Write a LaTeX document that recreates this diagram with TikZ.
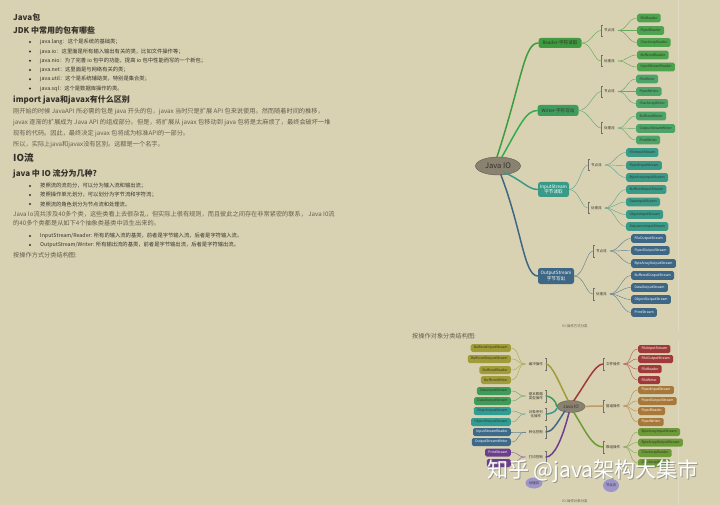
\documentclass[tikz,border=0pt]{standalone}
\usepackage{fontspec}
\setmainfont{Noto Sans CJK SC}
\usetikzlibrary{positioning,shapes.geometric}

\definecolor{paper}{HTML}{D8D2B3}
\definecolor{ink}{HTML}{36322A}
\definecolor{body}{HTML}{655D4B}
\definecolor{hubfill}{HTML}{8A8270}
\definecolor{gRead}{HTML}{3F9B3F}
\definecolor{gWrite}{HTML}{3E9C5C}
\definecolor{tIn}{HTML}{3A9A88}
\definecolor{bOut}{HTML}{3D6784}
\definecolor{cBuf}{HTML}{A09C38}
\definecolor{cData}{HTML}{3F9B58}
\definecolor{cObj}{HTML}{309C94}
\definecolor{cConv}{HTML}{3E6A8A}
\definecolor{cPrint}{HTML}{6C3F8E}
\definecolor{cFile}{HTML}{A03A3A}
\definecolor{cPipe}{HTML}{A8783A}
\definecolor{cArr}{HTML}{6C9B38}
\definecolor{lav}{HTML}{9D95C9}

\tikzset{
  hd/.style={anchor=west, inner sep=0pt, text=ink, font=\bfseries\fontsize{8}{9}\selectfont},
  para/.style={anchor=west, inner sep=0pt, text=body, font=\fontsize{6.2}{7}\selectfont},
  item/.style={anchor=west, inner sep=0pt, text=ink, font=\fontsize{5.3}{6}\selectfont},
  hub/.style={ellipse, fill=hubfill, draw=hubfill!70!black, line width=0.4pt, text=ink, inner sep=0pt},
  branch/.style={fill=#1, rounded corners=2.5pt, inner sep=1pt, align=center, font=\fontsize{4.6}{5.4}\selectfont},
  leaf/.style={fill=#1, rounded corners=1.6pt, minimum height=8.6pt, inner xsep=3.3pt, inner ysep=0pt, font=\fontsize{3.4}{3.9}\selectfont},
  tag/.style={inner xsep=3pt, inner ysep=0pt, minimum height=11pt, align=center, text=ink, font=\fontsize{3.5}{4.2}\selectfont},
  trunk/.style={draw=#1, line width=1.5pt, line cap=round},
  twig/.style={draw=#1!75!paper, line width=0.45pt},
  brk/.style={draw=ink!70, line width=0.4pt},
  bubble/.style={ellipse, fill=lav, inner sep=0pt, text=ink, font=\fontsize{3.3}{4}\selectfont},
}

% brackets on the left / right side of a tag
\newcommand{\brkL}[1]{\draw[brk] ([xshift=1.5pt]#1.north west) -- (#1.north west) -- (#1.south west) -- ([xshift=1.5pt]#1.south west);}
\newcommand{\brkR}[1]{\draw[brk] ([xshift=-1.5pt]#1.north east) -- (#1.north east) -- (#1.south east) -- ([xshift=-1.5pt]#1.south east);}

\begin{document}
\begin{tikzpicture}[x=1pt,y=-1pt]

% Page
\fill[paper] (0,0) rectangle (720,505);
\useasboundingbox (0,0) rectangle (720,505);
\draw[paper!80!white, line width=0.6pt] (678,0) -- (678,332);
\draw[paper!80!white, line width=0.6pt] (678,340) -- (678,505);

% ---------------- left column: text ----------------
\node[hd] (tPkg) at (13,17) {Java包};
\node[hd] (tJdk) at (13,30) {JDK 中常用的包有哪些};

\foreach \yy/\txt in {42/{java.lang：这个是系统的基础类；},
                      51.5/{java.io：这里面是所有输入输出有关的类，比如文件操作等；},
                      60.8/{java.nio：为了完善 io 包中的功能，提高 io 包中性能而写的一个新包；},
                      70/{java.net：这里面是与网络有关的类；},
                      79.2/{java.util：这个是系统辅助类，特别是集合类；},
                      88.5/{java.sql：这个是数据库操作的类。}} {
  \fill[ink] (30,\yy) circle (1.1pt);
  \node[item] at (40,\yy) {\txt};
}

\node[hd] (tImp) at (13,100) {import java和javax有什么区别};
\node[para] (p1) at (13,112) {刚开始的时候 JavaAPI 所必需的包是 java 开头的包，javax 当时只是扩展 API 包来说使用。然而随着时间的推移，};
\node[para] (p2) at (13,123) {javax 逐渐的扩展成为 Java API 的组成部分。但是，将扩展从 javax 包移动到 java 包将是太麻烦了，最终会破坏一堆};
\node[para] (p3) at (13,134) {现有的代码。因此，最终决定 javax 包将成为标准API的一部分。};
\node[para] (p4) at (13,145) {所以，实际上java和javax没有区别。这都是一个名字。};

\node[hd, font=\bfseries\fontsize{9.6}{11}\selectfont] (tIO) at (13,158) {IO流};
\node[hd] (tKind) at (13,173.5) {java 中 IO 流分为几种?};

\foreach \yy/\txt in {186/{按照流的流向分，可以分为输入流和输出流；},
                      195/{按照操作单元划分，可以划分为字节流和字符流；},
                      204/{按照流的角色划分为节点流和处理流。}} {
  \fill[ink] (30,\yy) circle (1.1pt);
  \node[item] at (40,\yy) {\txt};
}

\node[para] (p5) at (13,214) {Java Io流共涉及40多个类，这些类看上去很杂乱，但实际上很有规则，而且彼此之间存在非常紧密的联系， Java I0流};
\node[para] (p6) at (13,223.5) {的40多个类都是从如下4个抽象类基类中派生出来的。};

\foreach \yy/\txt in {236/{InputStream/Reader: 所有的输入流的基类，前者是字节输入流，后者是字符输入流。},
                      245/{OutputStream/Writer: 所有输出流的基类，前者是字节输出流，后者是字符输出流。}} {
  \fill[ink] (30,\yy) circle (1.1pt);
  \node[item] at (40,\yy) {\txt};
}

\node[para] (p7) at (13,255) {按操作方式分类结构图:};

% ---------------- top map: by operation ----------------
\node[hub, minimum width=45pt, minimum height=18pt, font=\fontsize{7.6}{9}\selectfont] (io1) at (498,166) {Java IO};

\node[branch=gRead, text=ink, minimum width=43pt, minimum height=10pt] (rd) at (560,43) {Reader-字符读取};
\node[branch=gWrite, text=ink, minimum width=41pt, minimum height=11pt] (wr) at (558,110.5) {Writer-字符写出};
\node[branch=tIn, text=white, minimum width=31pt, minimum height=15pt] (is) at (553.5,189.5) {InputStream\\字节读取};
\node[branch=bOut, text=white, minimum width=36pt, minimum height=16pt] (os) at (556,276) {OutputStream\\字节写出};

\draw[trunk=gRead] ([xshift=-1pt]io1.north) .. controls (522,80) and (524,43) .. (rd.west);
\draw[trunk=gWrite!85!green] ([xshift=4pt]io1.north) .. controls (520,125) and (526,110.5) .. (wr.west);
\draw[trunk=tIn] ([xshift=-10pt]io1.south east) .. controls (522,180) and (528,189.5) .. (is.west);
\draw[trunk=bOut] ([xshift=3pt]io1.south) .. controls (522,230) and (524,276) .. (os.west);

% tags
\node[tag, anchor=west] (rdN) at (601,30.5) {节点流};
\node[tag, anchor=west] (rdP) at (601,61) {处理流};
\node[tag, anchor=west] (wrN) at (601,91.5) {节点流};
\node[tag, anchor=west] (wrP) at (601,128) {处理流};
\node[tag, anchor=west] (isN) at (588,165) {节点流};
\node[tag, anchor=west] (isP) at (588,208) {处理流};
\node[tag, anchor=west] (osN) at (593,251) {节点流};
\node[tag, anchor=west] (osP) at (593,294) {处理流};
\foreach \t in {rdN,rdP,wrN,wrP,isN,isP,osN,osP} {\brkL{\t}}

\foreach \t/\b/\c in {rdN/rd/gRead,rdP/rd/gRead,wrN/wr/gWrite,wrP/wr/gWrite,isN/is/tIn,isP/is/tIn,osN/os/bOut,osP/os/bOut}
  \draw[twig=\c] (\b.east) .. controls +(10,0) and +(-7,0) .. (\t.west);

% leaves
\foreach \nm/\yy in {FileReader/18,PipedReader/30.5,CharArrayReader/42.5} {
  \node[leaf=gRead!92!white, text=ink, anchor=west] (a\nm) at (637,\yy) {\nm};
  \draw[twig=gRead] (rdN.east) .. controls +(9,0) and +(-9,0) .. (a\nm.west);
}
\foreach \nm/\yy in {BufferedReader/55,InputStreamReader/67} {
  \node[leaf=gRead!92!white, text=ink, anchor=west] (a\nm) at (637,\yy) {\nm};
  \draw[twig=gRead] (rdP.east) .. controls +(9,0) and +(-9,0) .. (a\nm.west);
}
\foreach \nm/\yy in {FileWriter/79,PipedWriter/91.5,CharArrayWriter/103.5} {
  \node[leaf=gWrite!92!white, text=ink, anchor=west] (a\nm) at (636,\yy) {\nm};
  \draw[twig=gWrite] (wrN.east) .. controls +(9,0) and +(-9,0) .. (a\nm.west);
}
\foreach \nm/\yy in {BufferedWriter/116,OutputStreamWriter/128.5,PrintWriter/140} {
  \node[leaf=gWrite!92!white, text=ink, anchor=west] (a\nm) at (636,\yy) {\nm};
  \draw[twig=gWrite] (wrP.east) .. controls +(9,0) and +(-9,0) .. (a\nm.west);
}
\foreach \nm/\yy in {FileInputStream/152.5,PipedInputStream/165.5,ByteArrayInputStream/177.5} {
  \node[leaf=tIn, text=ink, anchor=west] (a\nm) at (626,\yy) {\nm};
  \draw[twig=tIn] (isN.east) .. controls +(9,0) and +(-9,0) .. (a\nm.west);
}
\foreach \nm/\yy in {BufferedInputStream/189.5,DataInputStream/202,ObjectInputStream/214.5,SequenceInputStream/226.5} {
  \node[leaf=tIn, text=ink, anchor=west] (a\nm) at (626,\yy) {\nm};
  \draw[twig=tIn] (isP.east) .. controls +(9,0) and +(-9,0) .. (a\nm.west);
}
\foreach \nm/\yy in {FileOutputStream/238.5,PipedOutputStream/250.5,ByteArrayOutputStream/263.5} {
  \node[leaf=bOut, text=white, anchor=west] (a\nm) at (631,\yy) {\nm};
  \draw[twig=bOut] (osN.east) .. controls +(9,0) and +(-9,0) .. (a\nm.west);
}
\foreach \nm/\yy in {BufferedOutputStream/275.5,DataOutputStream/287.5,ObjectOutputStream/299.5,PrintStream/312.5} {
  \node[leaf=bOut, text=white, anchor=west] (a\nm) at (631,\yy) {\nm};
  \draw[twig=bOut] (osP.east) .. controls +(9,0) and +(-9,0) .. (a\nm.west);
}

\node[tag, font=\fontsize{3.4}{4}\selectfont, text=body] (cap1) at (575,326) {IO-操作方式分类};

% ---------------- bottom map: by object ----------------
\node[para] (p8) at (412,336) {按操作对象分类结构图:};

\node[hub, minimum width=28pt, minimum height=12pt, font=\fontsize{4.6}{5.4}\selectfont] (io2) at (571,406.5) {Java IO};

% left tags
\node[tag, anchor=east] (kBuf) at (546,364) {缓冲操作};
\node[tag, anchor=east, minimum height=12pt] (kData) at (546,396) {基本数据\\类型操作};
\node[tag, anchor=east, minimum height=12pt] (kObj) at (546,414) {对象序列\\化操作};
\node[tag, anchor=east] (kConv) at (546,432) {转化控制};
\node[tag, anchor=east] (kPrint) at (546,457) {打印控制};
\foreach \t in {kBuf,kData,kObj,kConv,kPrint} {\brkR{\t}}
% right tags
\node[tag, anchor=west] (kFile) at (603,364) {文件操作};
\node[tag, anchor=west] (kPipe) at (603,406) {管道操作};
\node[tag, anchor=west] (kArr) at (603,447) {数组操作};
\foreach \t in {kFile,kPipe,kArr} {\brkL{\t}}

\draw[trunk=cBuf] ([xshift=-3pt]io2.north) .. controls (560,385) and (552,364) .. (kBuf.east);
\draw[trunk=cData] (io2.west) .. controls (556,400) and (550,396) .. (kData.east);
\draw[trunk=cObj] ([yshift=-2pt]io2.west) .. controls (556,412) and (550,414) .. (kObj.east);
\draw[trunk=cConv] ([xshift=4pt]io2.south west) .. controls (556,425) and (552,432) .. (kConv.east);
\draw[trunk=cPrint] ([xshift=-2pt]io2.south) .. controls (562,440) and (554,457) .. (kPrint.east);
\draw[trunk=cFile] ([xshift=3pt]io2.north) .. controls (585,385) and (595,364) .. (kFile.west);
\draw[trunk=cPipe!60!paper] (io2.east) .. controls (592,406) and (597,406) .. (kPipe.west);
\draw[trunk=cArr] ([xshift=3pt]io2.south) .. controls (585,430) and (592,447) .. (kArr.west);

% left leaves
\foreach \nm/\yy in {BufferedInputStream/348,BufferedOutputStream/359,BufferedReader/370,BufferedWriter/380} {
  \node[leaf=cBuf, text=ink, anchor=east, minimum height=8pt] (b\nm) at (511,\yy) {\nm};
  \draw[twig=cBuf] (kBuf.west) .. controls +(-9,0) and +(9,0) .. (b\nm.east);
}
\foreach \nm/\yy in {DataInputStream/391,DataOutputStream/401} {
  \node[leaf=cData, text=ink, anchor=east, minimum height=8pt] (b\nm) at (511,\yy) {\nm};
  \draw[twig=cData] (kData.west) .. controls +(-9,0) and +(9,0) .. (b\nm.east);
}
\foreach \nm/\yy in {ObjectInputStream/411,ObjectOutputStream/422} {
  \node[leaf=cObj, text=ink, anchor=east, minimum height=8pt] (b\nm) at (511,\yy) {\nm};
  \draw[twig=cObj] (kObj.west) .. controls +(-9,0) and +(9,0) .. (b\nm.east);
}
\foreach \nm/\yy in {InputStreamReader/432,OutputStreamWriter/442} {
  \node[leaf=cConv, text=white, anchor=east, minimum height=8pt] (b\nm) at (511,\yy) {\nm};
  \draw[twig=cConv] (kConv.west) .. controls +(-9,0) and +(9,0) .. (b\nm.east);
}
\foreach \nm/\yy in {PrintStream/452.5,PrintWriter/463} {
  \node[leaf=cPrint, text=white, anchor=east, minimum height=8pt] (b\nm) at (511,\yy) {\nm};
  \draw[twig=cPrint] (kPrint.west) .. controls +(-9,0) and +(9,0) .. (b\nm.east);
}
% right leaves
\foreach \nm/\yy in {FileInputStream/349,FileOutputStream/359,FileReader/369,FileWriter/380} {
  \node[leaf=cFile, text=white, anchor=west, minimum height=8pt] (b\nm) at (638,\yy) {\nm};
  \draw[twig=cFile] (kFile.east) .. controls +(9,0) and +(-9,0) .. (b\nm.west);
}
\foreach \nm/\yy in {PipedInputStream/390,PipedOutputStream/401,PipedReader/411,PipedWriter/422} {
  \node[leaf=cPipe, text=white, anchor=west, minimum height=8pt] (b\nm) at (638,\yy) {\nm};
  \draw[twig=cPipe] (kPipe.east) .. controls +(9,0) and +(-9,0) .. (b\nm.west);
}
\foreach \nm/\yy in {ByteArrayInputStream/432,ByteArrayOutputStream/442.5,CharArrayReader/453,CharArrayWriter/463} {
  \node[leaf=cArr, text=ink, anchor=west, minimum height=8pt] (b\nm) at (638,\yy) {\nm};
  \draw[twig=cArr] (kArr.east) .. controls +(9,0) and +(-9,0) .. (b\nm.west);
}

\node[bubble, minimum width=17pt, minimum height=11pt] (proc) at (534,483) {处理流};
\node[bubble, minimum width=16pt, minimum height=13pt] (nodeS) at (611,485.5) {节点流};

\node[tag, font=\fontsize{3.4}{4}\selectfont, text=body] (cap2) at (575,501) {IO-操作对象分类};

% watermark
\node[text=black!55, opacity=0.6, font=\fontsize{21}{24}\selectfont] (wmS) at (594,472) {知乎 @java架构大集市};
\node[text=white, font=\fontsize{21}{24}\selectfont] (wm) at (593,471) {知乎 @java架构大集市};

\end{tikzpicture}
\end{document}
